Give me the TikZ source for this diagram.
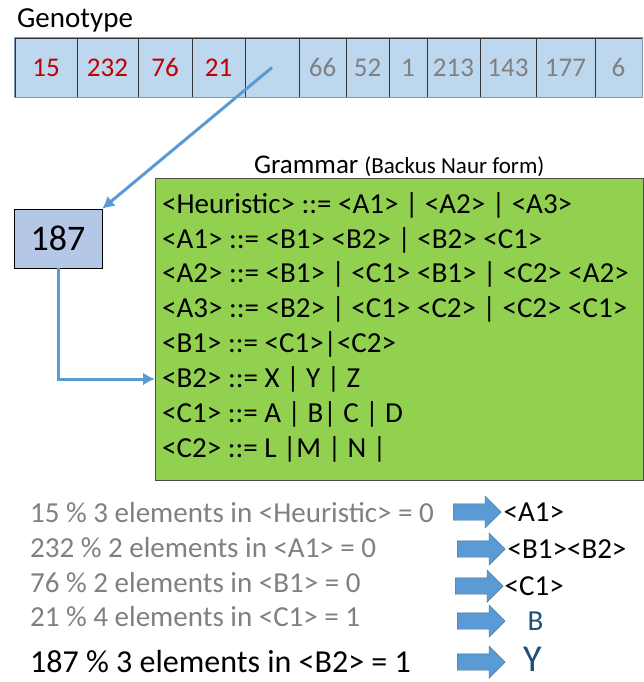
\documentclass[tikz,border=0pt]{standalone}
\usepackage{fontspec}
\setmainfont{Carlito}
\usepackage{xcolor}
\definecolor{cellblue}{HTML}{BDD7EE}
\definecolor{boxblue}{HTML}{B4C7E7}
\definecolor{linkblue}{HTML}{5B9BD5}
\definecolor{framegray}{HTML}{7F98B8}
\definecolor{gramgreen}{HTML}{92D050}
\definecolor{genred}{HTML}{C00000}
\definecolor{deepblue}{HTML}{1F4E79}
\usetikzlibrary{shapes,arrows,arrows.meta,positioning}

\begin{document}
\begin{tikzpicture}[
    x=1pt, y=-1pt,
    cell/.style={draw=black!80, fill=cellblue, minimum height=59pt, inner sep=0pt, font=\fontsize{27}{32}\selectfont},
    used/.style={text=genred},
    unused/.style={text=gray},
    rule/.style={anchor=west, inner sep=0pt, font=\fontsize{29}{35}\selectfont},
    derive/.style={anchor=west, inner sep=0pt, text=gray, font=\fontsize{29}{35}\selectfont},
    result/.style={inner sep=0pt, font=\fontsize{29}{35}\selectfont},
    fat/.style={single arrow, fill=linkblue, draw=linkblue!70!black, minimum width=30pt, minimum height=48pt, single arrow head extend=8pt, inner xsep=0pt, inner ysep=8pt, anchor=west},
    link/.style={-{Latex[length=12pt,width=13pt]}, linkblue, line width=3pt},
]
\useasboundingbox (0,0) rectangle (644,682);

% genotype
\node[anchor=west, inner sep=0pt, font=\fontsize{29}{35}\selectfont] (gtitle) at (17,20) {Genotype};
\node[cell, used, minimum width=62pt] (c1) at (46,67.5) {15};
\node[cell, used, minimum width=61pt] (c2) at (107.5,67.5) {232};
\node[cell, used, minimum width=54pt] (c3) at (165,67.5) {76};
\node[cell, used, minimum width=53pt] (c4) at (218.5,67.5) {21};
\node[cell, minimum width=54pt] (c5) at (272,67.5) {};
\node[cell, unused, minimum width=47pt] (c6) at (322.5,67.5) {66};
\node[cell, unused, minimum width=43pt] (c7) at (367.5,67.5) {52};
\node[cell, unused, minimum width=38pt] (c8) at (408,67.5) {1};
\node[cell, unused, minimum width=53pt] (c9) at (453.5,67.5) {213};
\node[cell, unused, minimum width=56pt] (c10) at (508,67.5) {143};
\node[cell, unused, minimum width=59pt] (c11) at (565.5,67.5) {177};
\node[cell, unused, minimum width=47pt] (c12) at (618.5,67.5) {6};
\draw[framegray, line width=1pt] (c1.north west) rectangle (c12.south east);

% the codon read next
\node[draw=black, fill=boxblue, minimum width=88pt, minimum height=59pt, inner sep=0pt, font=\fontsize{36}{42}\selectfont] (gene) at (58,238.5) {187};

% grammar
\node[draw=black!70, fill=gramgreen, minimum width=488pt, minimum height=302pt, anchor=north west] (grammar) at (155,178) {};
\node[above=0pt of grammar, inner sep=1pt] (gramtitle) {\fontsize{27}{30}\selectfont Grammar \fontsize{23}{28}\selectfont(Backus Naur form)};

\node[rule] (r1) at (162,205) {<Heuristic> ::= <A1> | <A2> | <A3>};
\node[rule] (r2) at (162,240) {<A1> ::= <B1> <B2> | <B2> <C1>};
\node[rule] (r3) at (162,274) {<A2> ::= <B1> | <C1> <B1> | <C2> <A2>};
\node[rule] (r4) at (162,309) {<A3> ::= <B2> | <C1> <C2> | <C2> <C1>};
\node[rule] (r5) at (162,344) {<B1> ::= <C1>|<C2>};
\node[rule] (r6) at (162,379) {<B2> ::= X | Y | Z};
\node[rule] (r7) at (162,414) {<C1> ::= A | B| C | D};
\node[rule] (r8) at (162,449) {<C2> ::= L |M | N |};

% connectors
\draw[link] (c5.center) -- (gene.north east);
\draw[link] (gene.south) |- (r6.west -| grammar.west);

% derivation steps
\node[derive] (d1) at (30,513) {15 \% 3 elements in <Heuristic> = 0};
\node[derive] (d2) at (30,548) {232 \% 2 elements in <A1> = 0};
\node[derive] (d3) at (30,583) {76 \% 2 elements in <B1> = 0};
\node[derive] (d4) at (30,617) {21 \% 4 elements in <C1> = 1};
\node[derive, text=black, font=\fontsize{32}{38}\selectfont] (d5) at (30,662) {187 \% 3 elements in <B2> = 1};

\node[fat] (a1) at (453,512) {};
\node[fat] (a2) at (457,549) {};
\node[fat] (a3) at (455,586) {};
\node[fat] (a4) at (457,621) {};
\node[fat] (a5) at (457,662) {};

\node[result, right=2pt of a1] (s1) {<A1>};
\node[result, right=2pt of a2] (s2) {<B1><B2>};
\node[result, right=1pt of a3] (s3) {<C1>};
\node[result, right=22pt of a4, text=deepblue] (s4) {B};
\node[result, anchor=base west, text=deepblue, font=\fontsize{38}{42}\selectfont] (s5) at (523,671) {Y};

\end{tikzpicture}
\end{document}
